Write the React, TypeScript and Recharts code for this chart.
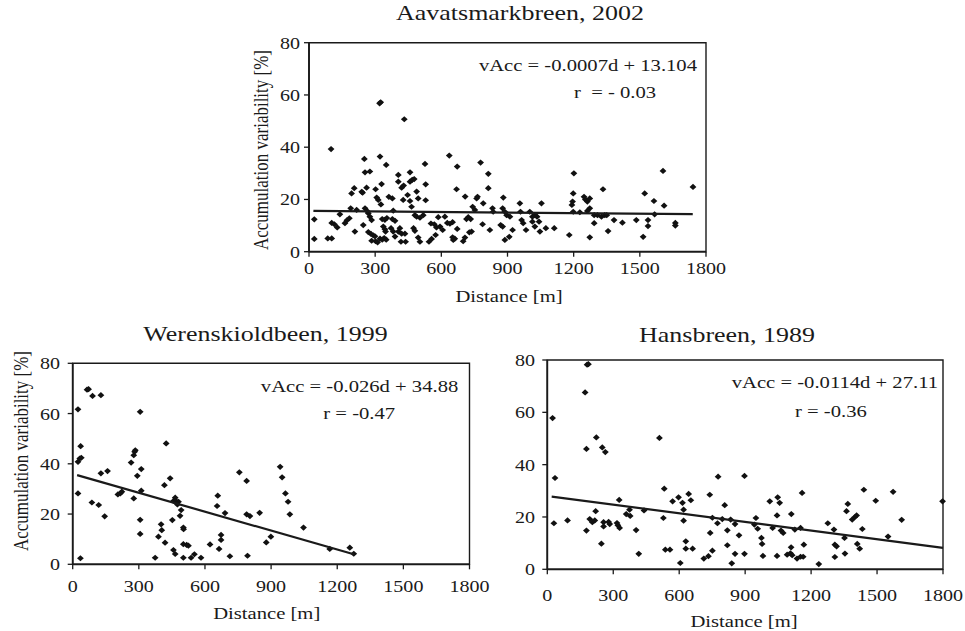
import React from 'react';
import { ScatterChart, Scatter, XAxis, YAxis, ReferenceArea, Label } from 'recharts';

// ---------- data ----------
const distanceTicks = [0, 300, 600, 900, 1200, 1500, 1800];
const variabilityTicks = [0, 20, 40, 60, 80];

const titles = ['Aavatsmarkbreen, 2002', 'Werenskioldbeen, 1999', 'Hansbreen, 1989'];
const equations = ['vAcc = -0.0007d + 13.104', 'vAcc = -0.026d + 34.88', 'vAcc = -0.0114d + 27.11'];
const correlations = ['r  = - 0.03', 'r = -0.47', 'r = -0.36'];
const xAxisTitle = 'Distance [m]';
const yAxisTitle = 'Accumulation variability [%]';

// [distance m, variability %]
const aavatsmarkPoints: [number, number][] = [
  [24, 12.4], [24, 4.9], [85, 5.1], [103, 5.1], [100, 39.3], [103, 11], [115, 10.5], [128, 9.3], [140, 14.3],
  [163, 10.9], [172, 12], [183, 12.8], [189, 16.6], [193, 22.3], [205, 24.3], [208, 7.7], [216, 16], [239, 22.9],
  [243, 22.6], [251, 35.5], [254, 30.4], [276, 30.7], [261, 24.5], [246, 10.2], [254, 16.6], [263, 15.6], [269, 14.7],
  [276, 13.4], [284, 12.1], [269, 7.5], [281, 6.8], [291, 6.3], [299, 5.9], [284, 4.2], [302, 4], [311, 3.6],
  [302, 23.9], [307, 20.7], [314, 19.8], [320, 56.8], [325, 57.2], [322, 36.4], [326, 18.1], [329, 25.9], [332, 12.5],
  [344, 12.2], [353, 12.9], [337, 9.6], [344, 8.6], [347, 7.7], [322, 5], [332, 4.6], [341, 5.2], [350, 4.6],
  [350, 33.2], [362, 21], [378, 20.4], [382, 15.7], [378, 12.5], [390, 11.8], [372, 9], [382, 7.7], [390, 5.8],
  [405, 7.7], [412, 9], [405, 29.4], [405, 26.8], [420, 24.5], [429, 25.3], [420, 6.9], [435, 6.9], [417, 3.8],
  [438, 3.8], [432, 50.7], [427, 19.8], [447, 21.7], [458, 30.4], [458, 26.8], [468, 27.5], [477, 27.8], [458, 19.4],
  [465, 17.2], [488, 23], [495, 20.4], [480, 14], [488, 13.4], [503, 13], [518, 14], [474, 9], [480, 8], [495, 5.4],
  [503, 3.8], [529, 25.8], [529, 19.7], [526, 33.6], [544, 3.8], [556, 4.9], [574, 6.4], [553, 10.8], [568, 10.5],
  [578, 9.3], [586, 13.2],
  [594, 9.6], [606, 8.3], [616, 13.4], [627, 11], [639, 10.7], [651, 11.3], [636, 36.8], [672, 32.6], [669, 23.9],
  [672, 8.7], [651, 5.5], [661, 5], [654, 4.5], [699, 4], [707, 5.4], [727, 7.4], [737, 7.7], [708, 21.1], [714, 12.5],
  [722, 13.2], [733, 12.5], [742, 17.2], [752, 16], [760, 20.4], [764, 21], [778, 34.1], [790, 18.5], [787, 10.5],
  [813, 29.8], [813, 24.3], [820, 8.3], [832, 16.6], [835, 15.3], [869, 10.2], [878, 9.6], [881, 20.7], [878, 16.6],
  [888, 15.3], [896, 14], [911, 13.4], [888, 4.5], [908, 5.7], [923, 8.3], [956, 18.5], [959, 15.3], [964, 12.1],
  [971, 10.9], [984, 8.3], [1001, 15.3], [1013, 13.4], [1024, 14], [1034, 13.4], [1013, 11.5], [1024, 9.6],
  [1043, 11.5], [1047, 7.7], [1054, 18.5], [1074, 9], [1112, 9], [1180, 6.4], [1201, 30], [1198, 22.3], [1195, 19.2],
  [1192, 17.9], [1198, 15.3],
  [1228, 15.1], [1247, 21], [1253, 20], [1262, 19.2], [1273, 20.4], [1273, 16.6], [1262, 15.6], [1293, 14],
  [1293, 10.9], [1273, 5.5], [1308, 14], [1326, 13.4], [1341, 14], [1350, 14], [1333, 23.9], [1356, 7.9], [1383, 12.1],
  [1421, 11.1], [1484, 12.1], [1515, 5.7], [1522, 22.3], [1537, 12.1], [1537, 9.8], [1564, 19.4], [1567, 14.3],
  [1610, 17.6], [1605, 30.9], [1661, 11], [1661, 10], [1741, 24.8],
];

const werenskioldPoints: [number, number][] = [
  [24, 61.7], [24, 28.2], [24, 40.8], [32, 42.1], [39, 42.4], [36, 47], [35, 2.4], [65, 69.5], [72, 69.7], [90, 67],
  [128, 67.3], [87, 24.6], [118, 23.6], [128, 36.2], [158, 37.1], [145, 19.1], [205, 27.8], [216, 28.2], [223, 28.9],
  [265, 40.5], [277, 43.4], [281, 44.8], [284, 45.4], [277, 26.2], [293, 35.2], [306, 60.7], [311, 37.9], [311, 29.3],
  [306, 17.7], [306, 12.1], [374, 2.6], [389, 11], [401, 15.9], [404, 13.6], [416, 31.5], [424, 48.1], [419, 8.6],
  [442, 34.2], [452, 17.6], [457, 5.7], [465, 4.1], [457, 25.2], [465, 26.5], [469, 25.2], [480, 24.9], [475, 23.8],
  [492, 21.6], [487, 19.3], [502, 14.6], [503, 14], [502, 8], [517, 7.7], [525, 7.4], [502, 2.6], [537, 2.6],
  [552, 4], [582, 2.6], [623, 7.9], [655, 23.2], [658, 27.3], [664, 6.1], [673, 11.7], [673, 9.7], [691, 20.4],
  [713, 3.2], [756, 36.6], [789, 33.2], [789, 19.9], [804, 19.2], [793, 3.4], [848, 20.5], [878, 8.7], [899, 11],
  [941, 38.8], [950, 34.6], [965, 28.2], [977, 24.9], [985, 19.9], [1047, 14.6], [1166, 6.1], [1257, 6.6], [1275, 4.2],
];

const hansPoints: [number, number][] = [
  [24, 57.8], [35, 34.9], [30, 17.6], [92, 18.7], [181, 78.2], [187, 78.4], [172, 67.6], [178, 46], [223, 50.4],
  [250, 46.6], [264, 44.8], [178, 14.8], [193, 19.2], [205, 18], [216, 18.7], [220, 22.2], [246, 9.8], [256, 18],
  [256, 16.4], [279, 18.1], [284, 17.3], [317, 17.7], [321, 16.8], [329, 15.8], [327, 26.5], [359, 21.1], [377, 20.4],
  [374, 22.8], [404, 15], [416, 5.9], [440, 22.5], [510, 50.2], [532, 30.8], [528, 19.6], [537, 7.5], [558, 7.5],
  [570, 26], [597, 27.5], [615, 25.4], [620, 22.8], [620, 18.6], [630, 10.7], [630, 7.9], [653, 26.4], [643, 28.8],
  [661, 7.9], [605, 2.4], [712, 4.1], [733, 5], [751, 7.1], [739, 28.5], [741, 13.9], [751, 19.7], [777, 35.4],
  [774, 17.6], [796, 19.2], [807, 24.5], [819, 14.9], [819, 9.2], [834, 19], [854, 17.3], [854, 5.9], [839, 2.3],
  [872, 13], [897, 35.7], [897, 5.9], [949, 19.6], [942, 17.1], [957, 15.5], [974, 12], [977, 9.7], [981, 5.1],
  [1012, 26], [1025, 15.8], [1045, 20.6], [1048, 27.5], [1057, 25.4], [1063, 14.8], [1073, 13.9], [1045, 5.1],
  [1091, 5.6], [1106, 6.1], [1114, 5.4], [1109, 8.4], [1110, 21.1], [1126, 15.2], [1136, 4.1], [1152, 4.8],
  [1164, 4.8], [1152, 15.8], [1159, 29.2], [1167, 9.4], [1235, 2], [1276, 17.6], [1304, 15.2], [1308, 9.4],
  [1316, 8.8], [1308, 4.7], [1352, 12], [1354, 6], [1361, 22.2], [1367, 25], [1387, 19], [1398, 19.9], [1407, 20.6],
  [1410, 9.7], [1421, 7.9], [1433, 15.4], [1440, 30.4], [1494, 26.2], [1550, 12.5], [1573, 29.6], [1612, 18.9],
  [1798, 26],
];

// drawn regression lines (end points as printed)
const aavatsmarkTrend: [number, number][] = [[20, 15.6], [1740, 14.4]];
const werenskioldTrend: [number, number][] = [[20, 35.5], [1275, 4.0]];
const hansTrend: [number, number][] = [[20, 27.8], [1800, 8.2]];

// ---------- helpers ----------
const FONT = '"Liberation Serif", "Times New Roman", Times, serif';
const SX = 1.18;
const INK = '#1a1a1a';

const toRows = (pts: [number, number][]) => pts.map(([d, v]) => ({ d, v }));

const XTick = (props: any) => {
  const { x, y, payload } = props;
  return (
    <g transform={`translate(${x},${y})`}>
      <text transform={`scale(${SX},1)`} textAnchor="middle" dy="0.71em" fontSize={17} fontFamily={FONT} fill={INK}>
        {payload.value}
      </text>
    </g>
  );
};

const YTick = (props: any) => {
  const { x, y, payload } = props;
  return (
    <g transform={`translate(${x},${y})`}>
      <text transform={`scale(${SX},1)`} textAnchor="end" dy="0.35em" fontSize={17} fontFamily={FONT} fill={INK}>
        {payload.value}
      </text>
    </g>
  );
};

const Diamond = (props: any) => {
  const { cx, cy } = props;
  if (cx == null || cy == null) return <g />;
  return <path d={`M${cx},${cy - 3.1}L${cx + 3.4},${cy}L${cx},${cy + 3.1}L${cx - 3.4},${cy}Z`} fill="#111" />;
};

const NoShape = () => <g />;

type PanelProps = {
  left: number; top: number; width: number; height: number;
  margin: { top: number; right: number; bottom: number; left: number };
  yAxisWidth: number; xAxisHeight: number; xTickMargin: number; yTickMargin: number;
  points: [number, number][]; trend: [number, number][];
  xLabelX: number; xLabelY: number;
  yLabelX?: number; yLabelY?: number;
};

function Panel(p: PanelProps) {
  return (
    <div style={{ position: 'absolute', left: p.left, top: p.top }}>
      <ScatterChart width={p.width} height={p.height} margin={p.margin} style={{ overflow: 'visible' }}>
        <XAxis
          type="number" dataKey="d" domain={[0, 1800]} ticks={distanceTicks} interval={0}
          height={p.xAxisHeight} tick={<XTick />} tickSize={5} tickMargin={p.xTickMargin}
          axisLine={{ stroke: INK, strokeWidth: 1.8 }} tickLine={{ stroke: INK, strokeWidth: 1.3 }}
        >
          <Label
            value={xAxisTitle}
            content={() => (
              <g transform={`translate(${p.xLabelX},${p.xLabelY})`}>
                <text transform={`scale(${SX},1)`} textAnchor="middle" fontSize={17.5} fontFamily={FONT} fill={INK}>
                  {xAxisTitle}
                </text>
              </g>
            )}
          />
        </XAxis>
        <YAxis
          type="number" dataKey="v" domain={[0, 80]} ticks={variabilityTicks} interval={0}
          width={p.yAxisWidth} tick={<YTick />} tickSize={5} tickMargin={p.yTickMargin}
          axisLine={{ stroke: INK, strokeWidth: 1.8 }} tickLine={{ stroke: INK, strokeWidth: 1.3 }}
        >
          {p.yLabelX != null && (
            <Label
              value={yAxisTitle}
              content={() => (
                <g transform={`translate(${p.yLabelX},${p.yLabelY}) rotate(-90)`}>
                  <text transform={`scale(1,${SX})`} textAnchor="middle" fontSize={17} fontFamily={FONT} fill={INK}>
                    {yAxisTitle}
                  </text>
                </g>
              )}
            />
          )}
        </YAxis>
        <ReferenceArea x1={0} x2={1800} y1={0} y2={80} fill="none" stroke={INK} strokeWidth={1.4} ifOverflow="visible" />
        <Scatter data={toRows(p.points)} shape={<Diamond />} isAnimationActive={false} />
        <Scatter
          data={toRows(p.trend)} shape={<NoShape />} line={{ stroke: INK, strokeWidth: 2.2 }}
          lineJointType="linear" isAnimationActive={false}
        />
      </ScatterChart>
    </div>
  );
}

const Txt = ({ x, y, size, anchor, children }: any) => (
  <g transform={`translate(${x},${y})`}>
    <text transform={`scale(${SX},1)`} textAnchor={anchor} fontSize={size} fontFamily={FONT} fill={INK} style={{ whiteSpace: 'pre' }}>
      {children}
    </text>
  </g>
);

export default function App() {
  return (
    <div style={{ position: 'absolute', left: 0, top: 0, width: 965, height: 631, background: '#fff', overflow: 'hidden', fontFamily: FONT }}>
      <Panel
        left={240} top={30} width={500} height={290}
        margin={{ top: 12.7, right: 34, bottom: 8.3, left: 0 }}
        yAxisWidth={69} xAxisHeight={60} xTickMargin={5} yTickMargin={4}
        points={aavatsmarkPoints} trend={aavatsmarkTrend}
        xLabelX={269} xLabelY={272} yLabelX={28} yLabelY={120}
      />
      <Panel
        left={0} top={340} width={500} height={291}
        margin={{ top: 23.3, right: 30.5, bottom: 8.7, left: 0 }}
        yAxisWidth={72.7} xAxisHeight={58} xTickMargin={11} yTickMargin={7.7}
        points={werenskioldPoints} trend={werenskioldTrend}
        xLabelX={266.7} xLabelY={279} yLabelX={28} yLabelY={111}
      />
      <Panel
        left={480} top={340} width={485} height={291}
        margin={{ top: 20, right: 22, bottom: 7.7, left: 0 }}
        yAxisWidth={67.3} xAxisHeight={54} xTickMargin={15} yTickMargin={7.3}
        points={hansPoints} trend={hansTrend}
        xLabelX={264} xLabelY={287}
      />
      <svg width={965} height={631} style={{ position: 'absolute', left: 0, top: 0, pointerEvents: 'none' }}>
        <Txt x={520} y={20} size={22} anchor="middle">{titles[0]}</Txt>
        <Txt x={265.5} y={341} size={22} anchor="middle">{titles[1]}</Txt>
        <Txt x={727} y={342} size={22} anchor="middle">{titles[2]}</Txt>
        <Txt x={697} y={70.7} size={17.5} anchor="end">{equations[0]}</Txt>
        <Txt x={574} y={98.3} size={17.5} anchor="start">{correlations[0]}</Txt>
        <Txt x={458.3} y={391.7} size={17.5} anchor="end">{equations[1]}</Txt>
        <Txt x={323.3} y={419.3} size={17.5} anchor="start">{correlations[1]}</Txt>
        <Txt x={938} y={388.3} size={17.5} anchor="end">{equations[2]}</Txt>
        <Txt x={795} y={416.7} size={17.5} anchor="start">{correlations[2]}</Txt>
      </svg>
    </div>
  );
}
